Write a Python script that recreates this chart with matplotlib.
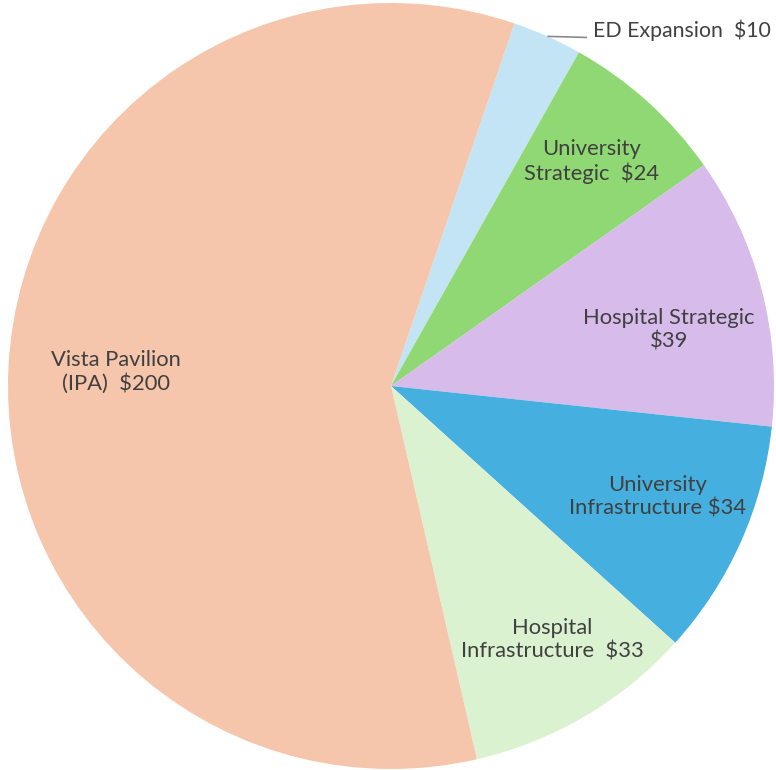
import numpy as np
import matplotlib
from matplotlib import pyplot as plt

matplotlib.rcParams["font.family"] = ["Lato", "DejaVu Sans"]

# values in $ (clockwise from the top-right)
names = [
    "ED Expansion  $10",
    "University\nStrategic  $24",
    "Hospital Strategic\n$39",
    "University\nInfrastructure $34",
    "Hospital\nInfrastructure  $33",
    "Vista Pavilion\n(IPA)  $200",
]
values = [10, 24, 39, 34, 33, 200]
colors = ["#c3e4f4", "#8fd873", "#d7bbeb", "#45b0e0", "#dbf2d1", "#f5c6ab"]

# label placement: radius and angle nudge (deg) relative to wedge middle
label_r = [None, 0.785, 0.74, 0.755, 0.785, 0.72]
label_da = [0, 0.3, -3.1, 1.5, 2.0, 0]

fig = plt.figure(figsize=(7.76, 7.70), dpi=100)
ax = fig.add_axes([0, 0, 1, 1])

wedges, _ = ax.pie(values, colors=colors, startangle=71.2, counterclock=False,
                   radius=1.0, center=(0, 0), frame=False)

txt_color = "#404040"
fs = 15.8
for i, w in enumerate(wedges):
    mid = np.deg2rad((w.theta1 + w.theta2) / 2 + label_da[i])
    if label_r[i] is None:
        # outside label with a short leader line
        ex, ey = np.cos(mid), np.sin(mid)
        ax.plot([ex, 0.512], [ey, 0.91], color="#8a8a8a", lw=1.2,
                solid_capstyle="butt")
        ax.text(0.527, 0.93, names[i], ha="left", va="center",
                fontsize=15.3, color=txt_color)
        continue
    x, y = label_r[i] * np.cos(mid), label_r[i] * np.sin(mid)
    ax.text(x, y, names[i], ha="center", va="center", fontsize=fs,
            color=txt_color, linespacing=1.2)

ax.set_xlim(-391 / 383, (776 - 391) / 383)
ax.set_ylim(-(770 - 386) / 383, 386 / 383)
ax.set_aspect("auto")
ax.axis("off")

plt.savefig("out.png", dpi=100)
